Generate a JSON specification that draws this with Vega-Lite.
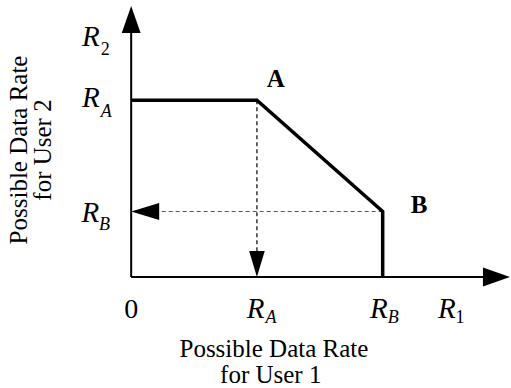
{
  "$schema": "https://vega.github.io/schema/vega-lite/v6.json",
  "width": 511,
  "height": 388,
  "padding": 0,
  "autosize": {"type": "fit", "contains": "padding"},
  "config": {"view": {"stroke": null}, "font": "Times New Roman, Liberation Serif, serif"},
  "datasets": {
    "axes": [
      {"name": "R1 axis", "x": 0, "y": 0, "x2": 2.95, "y2": 0},
      {"name": "R2 axis", "x": 0, "y": 0, "x2": 0, "y2": 4.05}
    ],
    "frontier": [
      {"step": 1, "x": 0, "y": 2.7},
      {"step": 2, "x": 1, "y": 2.7},
      {"step": 3, "x": 2, "y": 1.0},
      {"step": 4, "x": 2, "y": 0}
    ],
    "projV": [{"x": 1, "y": 2.7, "x2": 1, "y2": 0.3}],
    "projH": [{"x": 2, "y": 1.0, "x2": 0.15, "y2": 1.0}],
    "labels": [
      {"role": "main", "label": "R", "x": -0.25, "y": 3.527},
      {"role": "subnum", "label": "2", "x": -0.242, "y": 3.389},
      {"role": "main", "label": "R", "x": -0.25, "y": 2.595},
      {"role": "sub", "label": "A", "x": -0.242, "y": 2.443},
      {"role": "main", "label": "R", "x": -0.255, "y": 0.84},
      {"role": "sub", "label": "B", "x": -0.255, "y": 0.718},
      {"role": "num", "label": "0", "x": 0.0, "y": -0.626},
      {"role": "main", "label": "R", "x": 1.06, "y": -0.626},
      {"role": "sub", "label": "A", "x": 1.068, "y": -0.702},
      {"role": "main", "label": "R", "x": 2.04, "y": -0.626},
      {"role": "sub", "label": "B", "x": 2.04, "y": -0.702},
      {"role": "main", "label": "R", "x": 2.58, "y": -0.626},
      {"role": "subnum", "label": "1", "x": 2.58, "y": -0.702},
      {"role": "point", "label": "A", "x": 1.15, "y": 2.901},
      {"role": "point", "label": "B", "x": 2.29, "y": 0.977},
      {"role": "xtitle", "label": "Possible Data Rate", "x": 1.135, "y": -1.221},
      {"role": "xtitle", "label": "for User 1", "x": 1.11, "y": -1.618},
      {"role": "ytitle", "label": "Possible Data Rate", "x": -0.831, "y": 1.939},
      {"role": "ytitle", "label": "for User 2", "x": -0.635, "y": 1.939}
    ],
    "arrowUp": [{"x": 0, "y": 4.137}],
    "arrowRight": [{"x": 3.012, "y": 0}],
    "arrowDown": [{"x": 1, "y": 0}],
    "arrowLeft": [{"x": 0, "y": 1.0}]
  },
  "encoding": {
    "x": {"field": "x", "type": "quantitative", "axis": null,
      "scale": {"domain": [-1.0431, 2.9647], "nice": false, "zero": false}},
    "y": {"field": "y", "type": "quantitative", "axis": null,
      "scale": {"domain": [-1.6947, 4.229], "nice": false, "zero": false}}
  },
  "layer": [
    {
      "data": {"name": "projV"},
      "mark": {"type": "rule", "color": "black", "strokeWidth": 1.2, "strokeDash": [4, 3]},
      "encoding": {"x2": {"field": "x2"}, "y2": {"field": "y2"}}
    },
    {
      "data": {"name": "projH"},
      "mark": {"type": "rule", "color": "#555555", "strokeWidth": 1.2, "strokeDash": [4, 3]},
      "encoding": {"x2": {"field": "x2"}, "y2": {"field": "y2"}}
    },
    {
      "data": {"name": "axes"},
      "mark": {"type": "rule", "color": "black", "strokeWidth": 2},
      "encoding": {"x2": {"field": "x2"}, "y2": {"field": "y2"}}
    },
    {
      "data": {"name": "frontier"},
      "mark": {"type": "line", "color": "black", "strokeWidth": 3.5, "strokeJoin": "miter", "strokeCap": "butt"},
      "encoding": {"order": {"field": "step", "type": "quantitative"}}
    },
    {
      "data": {"name": "arrowUp"},
      "mark": {"type": "point", "filled": true, "color": "black", "opacity": 1, "strokeWidth": 0,
        "shape": "M0,0L-0.7,2L0.7,2Z", "size": 729}
    },
    {
      "data": {"name": "arrowRight"},
      "mark": {"type": "point", "filled": true, "color": "black", "opacity": 1, "strokeWidth": 0,
        "shape": "M0,0L-2,-0.7L-2,0.7Z", "size": 729}
    },
    {
      "data": {"name": "arrowDown"},
      "mark": {"type": "point", "filled": true, "color": "black", "opacity": 1, "strokeWidth": 0,
        "shape": "M0,0L-0.6,-2L0.6,-2Z", "size": 676}
    },
    {
      "data": {"name": "arrowLeft"},
      "mark": {"type": "point", "filled": true, "color": "black", "opacity": 1, "strokeWidth": 0,
        "shape": "M0,0L2,-0.6L2,0.6Z", "size": 784}
    },
    {
      "data": {"name": "labels"},
      "transform": [{"filter": "datum.role === 'main'"}],
      "mark": {"type": "text", "font": "Times New Roman, Liberation Serif, serif", "fontStyle": "italic", "fontSize": 29, "align": "right", "baseline": "alphabetic", "color": "black"},
      "encoding": {"text": {"field": "label"}}
    },
    {
      "data": {"name": "labels"},
      "transform": [{"filter": "datum.role === 'sub'"}],
      "mark": {"type": "text", "font": "Times New Roman, Liberation Serif, serif", "fontStyle": "italic", "fontSize": 18, "align": "left", "baseline": "alphabetic", "color": "black"},
      "encoding": {"text": {"field": "label"}}
    },
    {
      "data": {"name": "labels"},
      "transform": [{"filter": "datum.role === 'subnum'"}],
      "mark": {"type": "text", "font": "Times New Roman, Liberation Serif, serif", "fontSize": 18, "align": "left", "baseline": "alphabetic", "color": "black"},
      "encoding": {"text": {"field": "label"}}
    },
    {
      "data": {"name": "labels"},
      "transform": [{"filter": "datum.role === 'num'"}],
      "mark": {"type": "text", "font": "Times New Roman, Liberation Serif, serif", "fontSize": 28, "align": "center", "baseline": "alphabetic", "color": "black"},
      "encoding": {"text": {"field": "label"}}
    },
    {
      "data": {"name": "labels"},
      "transform": [{"filter": "datum.role === 'point'"}],
      "mark": {"type": "text", "font": "Times New Roman, Liberation Serif, serif", "fontWeight": "bold", "fontSize": 25, "align": "center", "baseline": "alphabetic", "color": "black"},
      "encoding": {"text": {"field": "label"}}
    },
    {
      "data": {"name": "labels"},
      "transform": [{"filter": "datum.role === 'xtitle'"}],
      "mark": {"type": "text", "font": "Times New Roman, Liberation Serif, serif", "fontSize": 25, "align": "center", "baseline": "alphabetic", "color": "black"},
      "encoding": {"text": {"field": "label"}}
    },
    {
      "data": {"name": "labels"},
      "transform": [{"filter": "datum.role === 'ytitle'"}],
      "mark": {"type": "text", "font": "Times New Roman, Liberation Serif, serif", "fontSize": 25, "align": "center", "baseline": "alphabetic", "angle": 270, "color": "black"},
      "encoding": {"text": {"field": "label"}}
    }
  ]
}
